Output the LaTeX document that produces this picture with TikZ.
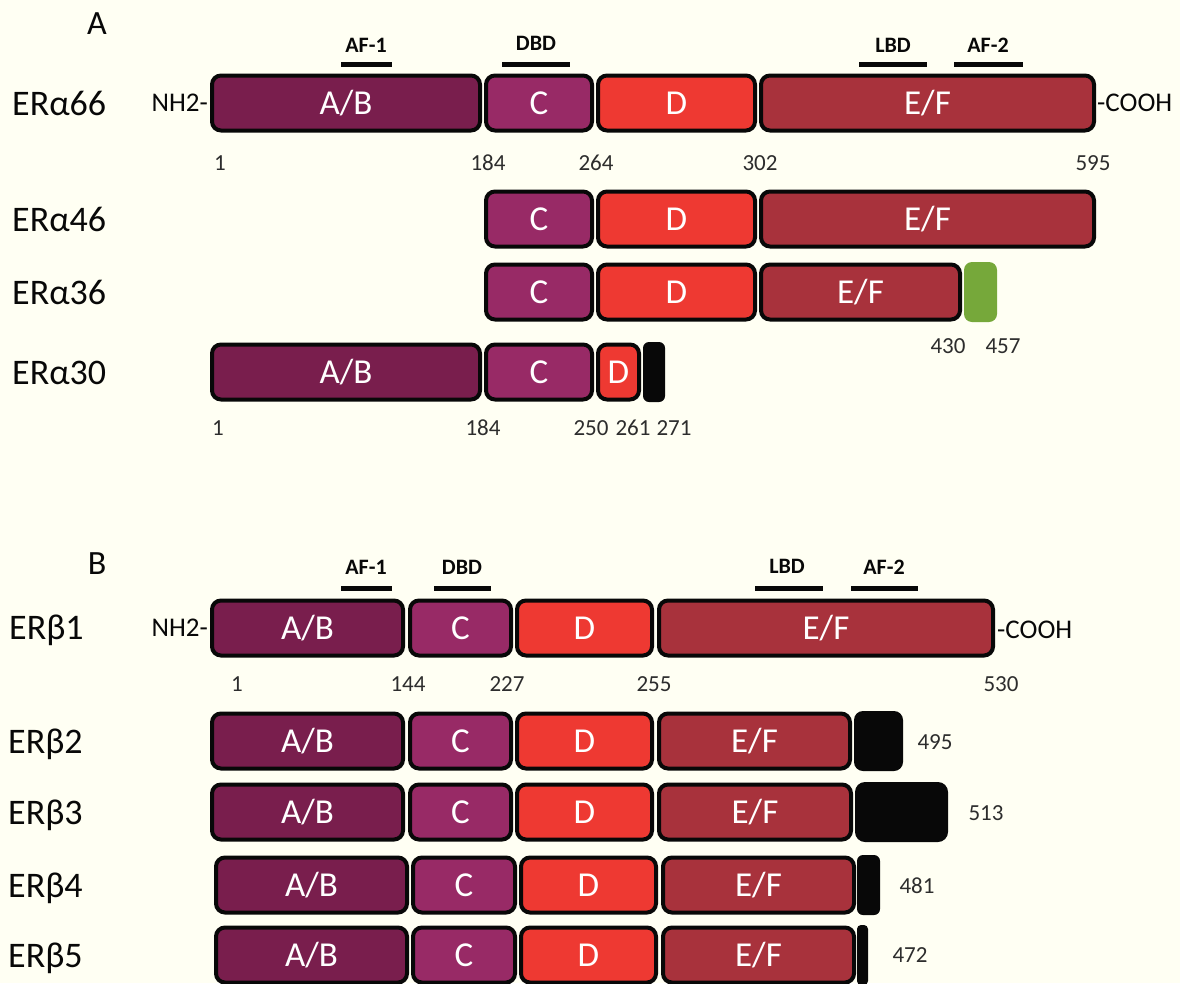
\documentclass[tikz,border=0pt]{standalone}
\usepackage{fontspec}
\setmainfont{Carlito}
\definecolor{bg}{RGB}{255,255,243}
\definecolor{ink}{RGB}{8,8,8}
\definecolor{cAB}{RGB}{121,30,77}
\definecolor{cC}{RGB}{152,42,102}
\definecolor{cD}{RGB}{238,57,50}
\definecolor{cEF}{RGB}{168,50,60}
\definecolor{cG}{RGB}{118,168,58}
\definecolor{numc}{RGB}{45,45,45}
% domain box: name, x1, x2 (outer edges), y centre, fill, text
\newcommand\dbox[6]{\node[dom, fill=#5, minimum width={#3-#2-4}] (#1) at ({(#2+#3)/2},#4) {#6};}
% tail block (fill only): name, x1, x2, y centre, colour, radius
\newcommand\tbox[6]{\node[tail, fill=#5, rounded corners=#6, minimum width={#3-#2}] (#1) at ({(#2+#3)/2},#4) {};}
\begin{document}
\begin{tikzpicture}[x=1pt,y=-1pt,
  dom/.style={draw=ink, line width=4pt, rounded corners=9pt, text=white, inner sep=0pt,
    minimum height=55, text height=22pt, text depth=0pt, font=\fontsize{35}{35}\selectfont},
  tail/.style={inner sep=0pt, minimum height=60},
  featbar/.style={line width=5pt, draw=ink},
  feat/.style={font=\bfseries\fontsize{22}{22}\selectfont, text=ink},
  num/.style={font=\fontsize{23}{23}\selectfont, text=numc},
  iso/.style={anchor=west, inner sep=0pt, text height=23pt, text depth=0pt, font=\fontsize{36}{36}\selectfont, text=ink},
  term/.style={inner sep=0pt, font=\fontsize{27}{27}\selectfont, text=ink},
  panel/.style={font=\fontsize{34}{34}\selectfont, text=ink}]
\fill[bg] (0,0) rectangle (1180,983);
\clip (0,0) rectangle (1180,983);
\useasboundingbox (0,0) rectangle (1180,983);

% ================= Panel A =================
\node[panel] (pA) at (97,24) {A};

% feature bars A
\coordinate (af1a1) at (341,64.5); \coordinate (af1a2) at (392,64.5);
\coordinate (dbda1) at (502,64.5); \coordinate (dbda2) at (570,64.5);
\coordinate (lbda1) at (859,64.5); \coordinate (lbda2) at (927,64.5);
\coordinate (af2a1) at (954,64.5); \coordinate (af2a2) at (1023,64.5);
\draw[featbar] (af1a1) -- (af1a2);
\draw[featbar] (dbda1) -- (dbda2);
\draw[featbar] (lbda1) -- (lbda2);
\draw[featbar] (af2a1) -- (af2a2);
\node[feat] (taf1a) at (366,45) {AF-1};
\node[feat] (tdbda) at (536,43) {DBD};
\node[feat] (tlbda) at (893,45) {LBD};
\node[feat] (taf2a) at (988,45) {AF-2};

% ERa66
\node[iso] (la66) at (12,104) {ERα66};
\node[term, anchor=east] (nh2a) at (208,103) {NH2-};
\dbox{a66ab}{210}{482}{103}{cAB}{A/B}
\dbox{a66c}{484}{594}{103}{cC}{C}
\dbox{a66d}{596}{757}{103}{cD}{D}
\dbox{a66ef}{759}{1096}{103}{cEF}{E/F}
\node[term, anchor=west] (cooha) at (1097,103) {-COOH};
\node[num] (n1a) at (220,163) {1};
\node[num] (n184a) at (488,163) {184};
\node[num] (n264a) at (596,163) {264};
\node[num] (n302a) at (760,163) {302};
\node[num] (n595a) at (1093,163) {595};

% ERa46
\node[iso] (la46) at (12,220) {ERα46};
\dbox{a46c}{484}{594}{219}{cC}{C}
\dbox{a46d}{596}{757}{219}{cD}{D}
\dbox{a46ef}{759}{1096}{219}{cEF}{E/F}

% ERa36
\node[iso] (la36) at (12,293) {ERα36};
\dbox{a36c}{484}{594}{292}{cC}{C}
\dbox{a36d}{596}{757}{292}{cD}{D}
\dbox{a36ef}{759}{962}{292}{cEF}{E/F}
\tbox{a36g}{964}{997}{292}{cG}{8pt}
\node[num] (n430) at (948,346) {430};
\node[num] (n457) at (1003,346) {457};

% ERa30
\node[iso] (la30) at (12,373) {ERα30};
\dbox{a30ab}{210}{482}{372}{cAB}{A/B}
\dbox{a30c}{484}{594}{372}{cC}{C}
\dbox{a30d}{596}{641}{372}{cD}{D}
\tbox{a30t}{643}{665}{372}{ink}{6pt}
\node[num] (n1b) at (218,428) {1};
\node[num] (n184b) at (483,428) {184};
\node[num] (n250) at (591,428) {250};
\node[num] (n261) at (633,428) {261};
\node[num] (n271) at (674,428) {271};

% ================= Panel B =================
\node[panel] (pB) at (97,564) {B};

\coordinate (af1b1) at (341,588); \coordinate (af1b2) at (392,588);
\coordinate (dbdb1) at (434,588); \coordinate (dbdb2) at (491,588);
\coordinate (lbdb1) at (755,588); \coordinate (lbdb2) at (823,588);
\coordinate (af2b1) at (851,588); \coordinate (af2b2) at (918,588);
\draw[featbar] (af1b1) -- (af1b2);
\draw[featbar] (dbdb1) -- (dbdb2);
\draw[featbar] (lbdb1) -- (lbdb2);
\draw[featbar] (af2b1) -- (af2b2);
\node[feat] (taf1b) at (366,567) {AF-1};
\node[feat] (tdbdb) at (462,567) {DBD};
\node[feat] (tlbdb) at (787,566) {LBD};
\node[feat] (taf2b) at (884,567) {AF-2};

% ERb1
\node[iso] (lb1) at (9,628) {ERβ1};
\node[term, anchor=east] (nh2b) at (208,628) {NH2-};
\dbox{b1ab}{210}{405}{628}{cAB}{A/B}
\dbox{b1c}{408}{513}{628}{cC}{C}
\dbox{b1d}{515}{654}{628}{cD}{D}
\dbox{b1ef}{657}{995}{628}{cEF}{E/F}
\node[term, anchor=west] (coohb) at (997,630) {-COOH};
\node[num] (n1c) at (237,684) {1};
\node[num] (n144) at (408,684) {144};
\node[num] (n227) at (507,684) {227};
\node[num] (n255) at (654,684) {255};
\node[num] (n530) at (1001,684) {530};

% ERb2
\node[iso] (lb2) at (8,742) {ERβ2};
\dbox{b2ab}{210}{405}{741}{cAB}{A/B}
\dbox{b2c}{408}{513}{741}{cC}{C}
\dbox{b2d}{515}{654}{741}{cD}{D}
\dbox{b2ef}{657}{852}{741}{cEF}{E/F}
\tbox{b2t}{854}{903}{741}{ink}{9pt}
\node[num] (n495) at (935,742) {495};

% ERb3
\node[iso] (lb3) at (8,813) {ERβ3};
\dbox{b3ab}{210}{405}{812}{cAB}{A/B}
\dbox{b3c}{408}{513}{812}{cC}{C}
\dbox{b3d}{515}{654}{812}{cD}{D}
\dbox{b3ef}{657}{853}{812}{cEF}{E/F}
\tbox{b3t}{855}{948}{812}{ink}{10pt}
\node[num] (n513) at (986,813) {513};

% ERb4
\node[iso] (lb4) at (8,886) {ERβ4};
\dbox{b4ab}{214}{409}{885}{cAB}{A/B}
\dbox{b4c}{411}{517}{885}{cC}{C}
\dbox{b4d}{519}{658}{885}{cD}{D}
\dbox{b4ef}{661}{856}{885}{cEF}{E/F}
\tbox{b4t}{857}{880}{885}{ink}{6pt}
\node[num] (n481) at (917,886) {481};

% ERb5
\node[iso] (lb5) at (8,956) {ERβ5};
\dbox{b5ab}{214}{409}{955}{cAB}{A/B}
\dbox{b5c}{411}{517}{955}{cC}{C}
\dbox{b5d}{519}{658}{955}{cD}{D}
\dbox{b5ef}{661}{856}{955}{cEF}{E/F}
\tbox{b5t}{857}{868}{955}{ink}{4pt}
\node[num] (n472) at (910,955) {472};
\end{tikzpicture}
\end{document}
